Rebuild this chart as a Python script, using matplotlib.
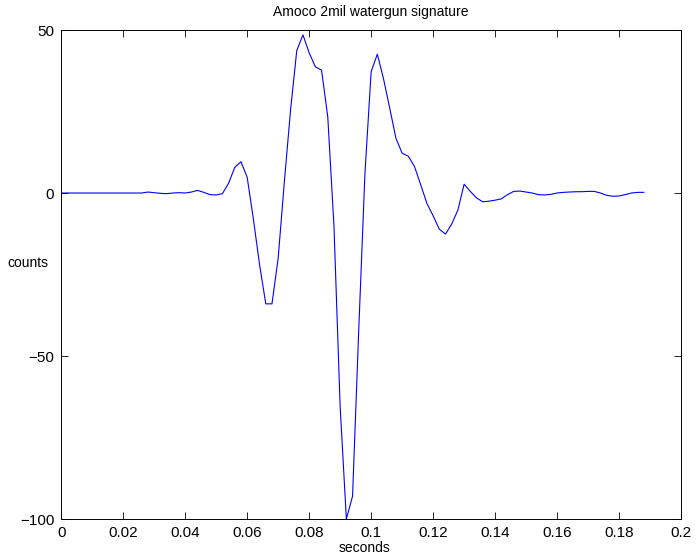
import numpy as np
import matplotlib.pyplot as plt

plt.rcParams['font.family'] = ['Liberation Sans', 'DejaVu Sans']

# sample interval of the recorded signature
dt = 0.002

# amplitude (counts), one value per sample
counts = [
    0, 0, 0, 0, 0, 0, 0, 0, 0, 0,
    0, 0, 0, 0, 0.3, 0.1, -0.1, -0.2, 0, 0.1,
    0, 0.3, 0.8, 0.2, -0.5, -0.6, -0.2, 3, 7.9, 9.6,
    4.8, -8, -22, -34, -34, -20, 3.5, 25.5, 43.7, 48.5,
    43, 38.7, 37.7, 23.4, -10, -65.5, -100, -93, -42, 6,
    37.2, 42.6, 35, 26, 16.8, 12.2, 11.3, 8.1, 2.5, -3.2,
    -7, -11.1, -12.6, -9.5, -5.2, 2.7, 0.5, -1.5, -2.7, -2.5,
    -2.2, -1.8, -0.5, 0.5, 0.6, 0.3, 0, -0.5, -0.6, -0.4,
    0, 0.2, 0.3, 0.4, 0.4, 0.5, 0.5, 0, -0.7, -1.0,
    -0.9, -0.5, 0, 0.2, 0.2,
]
seconds = np.arange(len(counts)) * dt

xticks = [0, 0.02, 0.04, 0.06, 0.08, 0.1, 0.12, 0.14, 0.16, 0.18, 0.2]
xticklabels = ['0', '0.02', '0.04', '0.06', '0.08', '0.1', '0.12', '0.14', '0.16', '0.18', '0.2']
yticks = [-100, -50, 0, 50]

fig = plt.figure(figsize=(6.96, 5.6), dpi=100, facecolor='white')
ax = fig.add_axes([0.088, 0.0732, 0.8905, 0.8732])

ax.plot(seconds, counts, color='blue', linewidth=0.8)

ax.set_xlim(0, 0.2)
ax.set_ylim(-100, 50)
ax.set_xticks(xticks)
ax.set_xticklabels(xticklabels)
ax.set_yticks(yticks)

ax.tick_params(direction='in', top=True, right=True, length=5, width=0.6,
               labelsize=11, pad=5)
for s in ax.spines.values():
    s.set_linewidth(0.7)

ax.set_title('Amoco 2mil watergun signature', fontsize=10, pad=10)
ax.set_xlabel('seconds', fontsize=10)
# the old X11 screen grab draws the y label upright
ax.set_ylabel('counts', fontsize=10, rotation=0, ha='center', va='center')
ax.xaxis.set_label_coords(0.49, -0.045)
ax.yaxis.set_label_coords(-0.054, 0.523)

fig.savefig('out.png', dpi=100)
